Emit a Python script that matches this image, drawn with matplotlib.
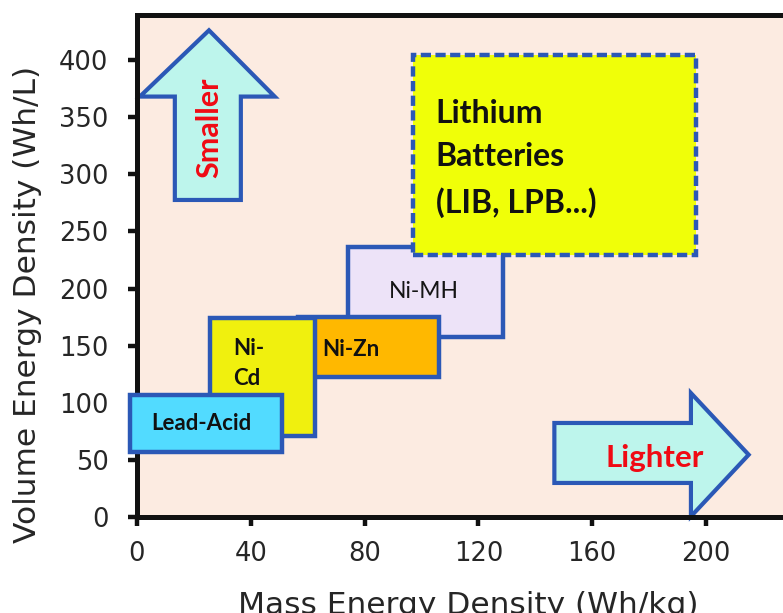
import matplotlib
matplotlib.use('agg')

from matplotlib import pyplot as plt
from matplotlib.patches import Rectangle, Polygon

# battery families: (name, x0, x1, y0, y1) in Wh/kg and Wh/L
names = ['Ni-Zn', 'Ni-MH', 'Ni-Cd', 'Lead-Acid']
mass_lo = [56.5, 74.0, 25.5, -2.5]
mass_hi = [106.0, 128.5, 62.5, 51.0]
vol_lo = [122.5, 157.5, 71.0, 57.0]
vol_hi = [175.0, 236.0, 174.0, 106.5]
fills = ['#FFB800', '#EDE3F8', '#F0F00E', '#52DBFF']

li_mass = [97.0, 196.5]
li_vol = [229.0, 404.0]

# direction arrows (outline vertices, data units)
up_x = [13.3, 36.5, 36.5, 48.4, 25.3, 1.0, 13.3]
up_y = [277.5, 277.5, 368.0, 368.0, 426.0, 368.0, 368.0]
right_x = [146.7, 194.7, 194.7, 215.0, 194.7, 194.7, 146.7]
right_y = [29.8, 29.8, 0.5, 54.5, 108.5, 82.3, 82.3]

xticks = [0, 40, 80, 120, 160, 200]
yticks = [0, 50, 100, 150, 200, 250, 300, 350, 400]

edge = '#2B58B6'
bg = '#FCEBE1'
txt = '#262626'

fig = plt.figure(figsize=[7.83, 6.13], dpi=100)
ax = fig.add_axes([137/783., 1 - 517/613., 235*2.845/783., 502/613.])
ax.set_facecolor(bg)
ax.set_xlim(0, 235)
ax.set_ylim(0, 439.4)

for s in ['left', 'bottom', 'top']:
    ax.spines[s].set_linewidth(3.6)
    ax.spines[s].set_color('#111111')
ax.spines['right'].set_visible(False)

ax.set_xticks(xticks)
ax.set_yticks(yticks)
ax.tick_params(axis='both', direction='out', length=6.5, width=3.2,
               color='#111111', labelsize=18.5, labelcolor=txt)
ax.tick_params(axis='y', pad=14)
ax.tick_params(axis='x', pad=11)

# arrows
ax.add_patch(Polygon(list(zip(up_x, up_y)), closed=True, facecolor='#BDF5EC',
                     edgecolor=edge, linewidth=3, zorder=2, clip_on=False))
ax.add_patch(Polygon(list(zip(right_x, right_y)), closed=True, facecolor='#BDF5EC',
                     edgecolor=edge, linewidth=3, zorder=2, clip_on=False))
ax.text(25.3, 341, 'Smaller', rotation=90, ha='center', va='center',
        color='#F00A14', fontsize=22, fontweight='bold', family='Lato', zorder=3)
ax.text(181.8, 52, 'Lighter', ha='center', va='center',
        color='#F00A14', fontsize=22.5, fontweight='bold', family='Lato', zorder=3)

# battery boxes
z = {'Ni-MH': 3, 'Ni-Zn': 5, 'Ni-Cd': 6, 'Lead-Acid': 7}
for n, x0, x1, y0, y1, fc in zip(names, mass_lo, mass_hi, vol_lo, vol_hi, fills):
    ax.add_patch(Rectangle((x0, y0), x1 - x0, y1 - y0, facecolor=fc,
                           edgecolor=edge, linewidth=3.2, zorder=z[n], clip_on=False))

ax.add_patch(Rectangle((li_mass[0], li_vol[0]), li_mass[1] - li_mass[0],
                       li_vol[1] - li_vol[0], facecolor='#F0FF08', edgecolor=edge,
                       linewidth=3.2, linestyle=(0, (2.3, 1.0)), zorder=4))

ax.text(22.5, 82, 'Lead-Acid', ha='center', va='center', fontsize=16,
        fontweight='bold', family='Lato', color='#111111', zorder=8)
ax.text(33.7, 134.5, 'Ni-\nCd', ha='left', va='center', fontsize=16,
        fontweight='bold', family='Lato', color='#111111', linespacing=1.55, zorder=8)
ax.text(75.0, 147, 'Ni-Zn', ha='center', va='center', fontsize=16,
        fontweight='bold', family='Lato', color='#111111', zorder=8)
ax.text(101.0, 197, 'Ni-MH', ha='center', va='center', fontsize=16.5,
        family='Lato', color='#151515', zorder=8)
ax.text(105.0, 314, 'Lithium\nBatteries\n(LIB, LPB...)', ha='left', va='center',
        fontsize=23, fontweight='bold', family='Lato', color='#111111',
        linespacing=1.6, zorder=8)

fig.text(28/783., 1 - 304/613., 'Volume Energy Density (Wh/L)', rotation=90,
         ha='center', va='center', fontsize=22.5, color=txt)
fig.text(468/783., 1 - 613.5/613., 'Mass Energy Density (Wh/kg)',
         ha='center', va='baseline', fontsize=22.5, color=txt)

fig.savefig('out.png', dpi=100)
